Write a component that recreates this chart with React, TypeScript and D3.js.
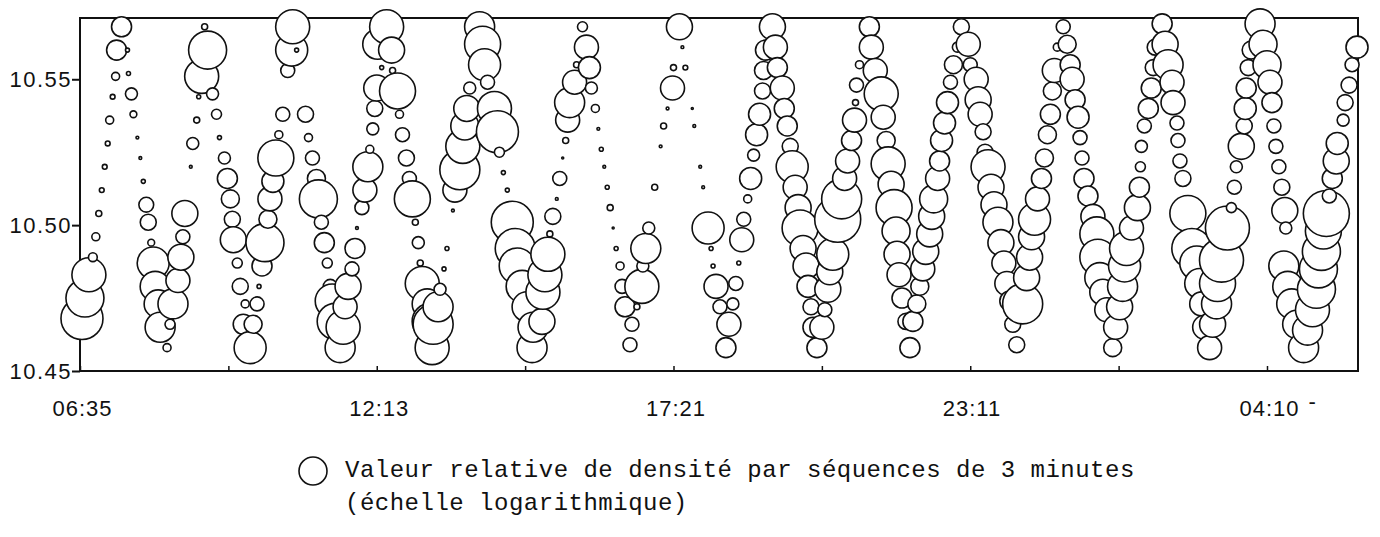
import React, { useEffect, useRef } from "react";
import * as d3 from "d3";

// one bubble per 3-minute sequence: x = minutes of record, y = level, size = relative density (log)
const minutes = [
  2, 5, 9, 13, 16, 19, 22, 25, 28, 30, 33, 36, 37, 42,
  48, 49, 52, 54, 58, 61, 64, 67, 69, 72, 74, 76, 79, 88, 81, 91,
  94, 99, 102, 104, 106, 112, 114, 118, 120, 123, 126, 129,
  134, 138, 141, 146, 149, 152, 154, 155, 159, 162, 167, 165, 172,
  175, 179, 181, 184, 187, 190, 192, 195, 198, 201, 205, 210, 214, 215, 219,
  228, 231, 235, 239, 241, 244, 247, 250, 253, 255, 258, 263,
  266, 268, 271, 275, 278, 280, 285, 288, 291, 293, 296, 298, 300, 305, 301, 310,
  315, 316, 321, 323, 326, 330, 333, 336, 339, 342, 344, 346, 351, 354, 356,
  357, 362, 364, 368, 371, 377, 379, 384, 387, 389, 391, 394, 404,
  407, 409, 412, 419, 422, 424, 428, 432, 437, 440, 442, 447, 452, 457, 458,
  467, 468, 470, 473, 475, 478, 482, 485, 488, 491, 493, 495, 500, 502, 508, 512,
  515, 517, 521, 524, 527, 530, 533, 536, 539, 542, 546, 548, 551, 556, 558,
  563, 568, 569, 572, 575, 581, 587, 590, 594, 599, 600, 606,
  609, 612, 619, 621, 627, 630, 635, 638, 640, 643, 647, 653,
  656, 660, 663, 666, 669, 671, 675, 678, 681, 684, 687, 690, 691, 693, 700,
  703, 705, 710, 712, 715, 718, 720, 723, 726, 728, 731, 734, 736, 739, 741, 745,
  750, 753, 756, 758, 761, 766, 770, 773, 776, 780, 783, 784, 785, 788, 798,
  800, 804, 810, 812, 815, 817, 820, 823, 825, 826, 828, 831, 835, 839,
  842, 846, 849, 852, 855, 859, 861, 863, 867, 869, 871, 874, 877, 880, 883, 887, 891,
  898, 900, 906, 908, 910, 913, 915, 918, 921, 924, 928, 931, 934, 937, 940, 943, 947,
  953, 957, 960, 962, 965, 968, 972, 975, 978, 981, 983, 985, 988, 994,
  998, 1001, 1003, 1006, 1009, 1011, 1013, 1015, 1019, 1024, 1028, 1029, 1031, 1034, 1038, 1044,
  1047, 1051, 1054, 1056, 1058, 1063, 1069, 1071, 1072, 1073, 1076, 1080, 1083, 1085, 1087, 1094,
  1097, 1100, 1104, 1105, 1109, 1110, 1112, 1115, 1120, 1124, 1129, 1132, 1134, 1137, 1142,
  1145, 1149, 1150, 1154, 1160, 1164, 1167, 1169, 1174, 1177, 1178, 1179, 1181, 1184, 1193,
  1196, 1200, 1203, 1205, 1207, 1209, 1212, 1215, 1218, 1219, 1217, 1221, 1225, 1230, 1237,
  1241, 1246, 1250, 1252, 1255, 1257, 1260, 1263, 1266, 1270, 1271, 1277, 1279, 1283, 1286, 1291,
];

const levels = [
  10.468, 10.475, 10.483, 10.489, 10.496, 10.504, 10.512, 10.52, 10.528, 10.536, 10.544, 10.551, 10.56, 10.568,
  10.56, 10.552, 10.545, 10.538, 10.53, 10.523, 10.515, 10.507, 10.501, 10.494, 10.487, 10.479, 10.473, 10.458, 10.465, 10.466,
  10.473, 10.481, 10.489, 10.496, 10.504, 10.52, 10.528, 10.536, 10.544, 10.551, 10.568, 10.56,
  10.545, 10.538, 10.53, 10.523, 10.516, 10.509, 10.502, 10.495, 10.487, 10.479, 10.473, 10.466, 10.458,
  10.466, 10.473, 10.479, 10.486, 10.494, 10.502, 10.509, 10.515, 10.523, 10.531, 10.538, 10.553, 10.56, 10.568, 10.56,
  10.538, 10.53, 10.523, 10.516, 10.509, 10.501, 10.494, 10.487, 10.479, 10.474, 10.467, 10.458,
  10.465, 10.472, 10.479, 10.485, 10.492, 10.499, 10.506, 10.512, 10.52, 10.526, 10.533, 10.54, 10.547, 10.554, 10.562, 10.568,
  10.56, 10.553, 10.546, 10.538, 10.531, 10.523, 10.516, 10.509, 10.501, 10.494, 10.487, 10.48, 10.473, 10.467, 10.458,
  10.466, 10.472, 10.478, 10.485, 10.492, 10.505, 10.512, 10.519, 10.527, 10.534, 10.54, 10.547, 10.568,
  10.562, 10.555, 10.549, 10.54, 10.532, 10.525, 10.518, 10.512, 10.501, 10.492, 10.486, 10.479, 10.472, 10.458, 10.465,
  10.467, 10.477, 10.483, 10.49, 10.497, 10.503, 10.509, 10.516, 10.523, 10.529, 10.536, 10.542, 10.549, 10.555, 10.568, 10.561,
  10.554, 10.547, 10.54, 10.533, 10.526, 10.52, 10.513, 10.506, 10.499, 10.492, 10.486, 10.479, 10.472, 10.459, 10.466,
  10.472, 10.479, 10.486, 10.492, 10.499, 10.513, 10.527, 10.534, 10.54, 10.547, 10.554, 10.568,
  10.561, 10.554, 10.54, 10.534, 10.52, 10.513, 10.499, 10.492, 10.486, 10.479, 10.472, 10.458,
  10.466, 10.473, 10.48, 10.487, 10.495, 10.502, 10.509, 10.516, 10.524, 10.531, 10.538, 10.546, 10.553, 10.56, 10.568,
  10.561, 10.554, 10.547, 10.54, 10.534, 10.527, 10.52, 10.513, 10.506, 10.499, 10.492, 10.486, 10.479, 10.472, 10.465, 10.458,
  10.465, 10.471, 10.478, 10.484, 10.49, 10.502, 10.509, 10.516, 10.522, 10.529, 10.536, 10.542, 10.548, 10.555, 10.568,
  10.561, 10.553, 10.545, 10.537, 10.529, 10.521, 10.514, 10.506, 10.498, 10.49, 10.483, 10.475, 10.467, 10.458,
  10.467, 10.473, 10.479, 10.485, 10.491, 10.497, 10.503, 10.509, 10.516, 10.522, 10.529, 10.535, 10.542, 10.549, 10.555, 10.561, 10.568,
  10.562, 10.555, 10.55, 10.543, 10.538, 10.532, 10.525, 10.52, 10.513, 10.507, 10.501, 10.494, 10.487, 10.48, 10.474, 10.466, 10.459,
  10.473, 10.482, 10.489, 10.496, 10.502, 10.509, 10.516, 10.523, 10.531, 10.538, 10.546, 10.553, 10.561, 10.568,
  10.562, 10.555, 10.55, 10.543, 10.537, 10.53, 10.523, 10.516, 10.51, 10.503, 10.497, 10.489, 10.482, 10.477, 10.471, 10.458,
  10.465, 10.472, 10.479, 10.486, 10.492, 10.499, 10.506, 10.513, 10.52, 10.527, 10.534, 10.54, 10.547, 10.554, 10.561, 10.569,
  10.562, 10.555, 10.549, 10.542, 10.535, 10.529, 10.522, 10.516, 10.504, 10.492, 10.487, 10.48, 10.473, 10.465, 10.458,
  10.466, 10.473, 10.48, 10.488, 10.499, 10.506, 10.513, 10.52, 10.527, 10.534, 10.54, 10.547, 10.554, 10.56, 10.569,
  10.562, 10.555, 10.549, 10.542, 10.534, 10.527, 10.52, 10.513, 10.505, 10.499, 10.486, 10.479, 10.473, 10.466, 10.458,
  10.464, 10.471, 10.478, 10.485, 10.491, 10.498, 10.504, 10.51, 10.516, 10.522, 10.528, 10.536, 10.542, 10.548, 10.555, 10.561,
];

const density = [
  10.5, 9.5, 8.5, 2.2, 2, 1.5, 1.2, 1.2, 1.2, 2, 1.2, 2, 5, 5,
  1, 1, 3, 1.7, 0.7, 0.7, 1, 3.7, 4, 1.7, 8, 7.5, 7, 2, 7.5, 2.5,
  7.5, 6, 6.5, 3.5, 6.5, 0.7, 3, 1.5, 1, 8.5, 1.5, 9.5,
  3, 2.5, 1, 3, 5, 4.5, 4, 6.5, 2.5, 4, 2, 5, 8,
  4.5, 3.5, 1, 5, 9.5, 4.5, 6, 5.5, 9, 2, 3.5, 3.5, 8, 8.5, 1,
  4, 2, 3.5, 4.5, 9.5, 3.5, 5, 2.5, 3.5, 8.5, 9, 7.5,
  8.5, 6, 6.5, 3.5, 5, 0.7, 3.5, 6, 7.5, 2, 3, 4, 6.5, 1, 7.5, 8.5,
  6.5, 1.5, 9, 2, 3.5, 4, 3.5, 9, 1.5, 3, 1.5, 8.5, 7.5, 9, 8.5,
  10, 7.5, 3, 1, 1, 0.7, 6, 10, 8.5, 7, 6.5, 3, 7.5,
  9, 8, 3.5, 8.5, 10.5, 2.5, 1, 1, 10.5, 10, 9, 8, 7.5, 7.5, 7.5,
  6.5, 8.5, 8.5, 8.5, 1.5, 4, 0.7, 3.5, 0.5, 1.5, 6, 7.5, 6, 1.5, 2.5, 6,
  5.5, 3, 2, 0.7, 1, 0.7, 1, 1.5, 0.5, 1, 2, 3.5, 5, 3.5, 3.5,
  1.5, 8.5, 3, 7.5, 3, 1.5, 0.7, 1.5, 0.7, 6, 1.5, 6.5,
  0.7, 1.2, 0.5, 0.7, 0.7, 0.7, 8, 1, 1, 6, 3.5, 5,
  6, 3, 3.5, 1, 6, 3.5, 2, 5.5, 3, 5.5, 5.5, 4, 4.5, 5, 6.5,
  6, 5, 6, 5, 5, 4, 8, 6, 6.5, 9, 6.5, 6.5, 5.5, 4, 5, 5,
  6, 3.5, 6.5, 6.5, 8, 11.5, 10, 6, 6, 5, 6, 1.5, 3.5, 2, 5,
  6, 6, 8.5, 6, 4.5, 8.5, 6.5, 9, 7, 6.5, 6, 5, 4, 5,
  5, 4.5, 4.5, 6, 6.5, 6.5, 6.5, 7, 6, 5, 5.5, 5.5, 5.5, 3.5, 4.5, 2.5, 4,
  6, 3.5, 6, 6.5, 6, 4, 4, 8.5, 6.5, 6.5, 7.5, 6.5, 6, 6, 5, 4, 4,
  10, 6.5, 6.5, 6.5, 8, 6, 5, 4.5, 4.5, 5, 4.5, 6, 2, 3.5,
  4.5, 5, 6, 5, 5.5, 3.5, 3.5, 5, 5, 6, 8.5, 9, 7.5, 6.5, 6, 4.5,
  6, 6.5, 7.5, 8, 8.5, 6, 6.5, 5, 2.5, 3, 3.5, 5, 5, 4, 4, 5,
  6.5, 7.5, 6, 6, 3.5, 3.5, 3.5, 4, 9, 10, 8.5, 7.5, 6, 6, 6,
  6.5, 7.5, 9, 11, 11, 2.5, 3.5, 3, 6.5, 4, 5.5, 5, 4, 4.5, 7.5,
  7, 7, 6, 5, 3.5, 3.5, 3.5, 4, 6.5, 3, 7.5, 7.5, 7.5, 7, 7.5,
  7.5, 8.5, 9.5, 9.5, 9.5, 9, 11.5, 3.5, 5, 6.5, 5.5, 3, 4, 4, 3.5, 5.5,
];

const xTickMinutes = [0, 150, 300, 450, 600, 750, 900, 1050, 1200];
const xLabelMinutes = [0, 300, 600, 900, 1200];
const xLabels = ["06:35", "12:13", "17:21", "23:11", "04:10 -"];
const yTicks = [10.45, 10.5, 10.55];
const legendLines = [
  "Valeur relative de densité par séquences de 3 minutes",
  "(échelle logarithmique)",
];

export default function App() {
  const svgRef = useRef<SVGSVGElement>(null);

  useEffect(() => {
    const svg = d3.select(svgRef.current);
    svg.selectAll("*").remove();

    const x = d3.scaleLinear().domain([0, 1292]).range([80, 1358]);
    const y = d3.scaleLinear().domain([10.45, 10.571]).range([371, 18]);
    const r = d3.scaleLinear().domain([0, 12]).range([0, 24]);

    const tickFont = "'Liberation Sans', Arial, sans-serif";

    // frame
    svg.append("rect")
      .attr("x", x.range()[0])
      .attr("y", y.range()[1])
      .attr("width", x.range()[1] - x.range()[0])
      .attr("height", y.range()[0] - y.range()[1])
      .attr("fill", "none")
      .attr("stroke", "#111")
      .attr("stroke-width", 2);

    // y axis
    const yAxis = svg.append("g")
      .attr("transform", "translate(" + x.range()[0] + ",0)")
      .call(d3.axisLeft(y).tickValues(yTicks).tickSize(8).tickPadding(0).tickFormat(d3.format(".2f")));
    yAxis.select(".domain").remove();
    yAxis.selectAll("line").attr("stroke", "#111").attr("stroke-width", 2);
    yAxis.selectAll("text")
      .attr("font-family", tickFont)
      .attr("font-size", 22)
      .attr("letter-spacing", 1.5)
      .attr("fill", "#111");

    // x axis, ticks inside, labels every second tick
    const xAxis = svg.append("g")
      .attr("transform", "translate(0," + y.range()[0] + ")")
      .call(d3.axisBottom(x)
        .tickValues(xTickMinutes)
        .tickSizeInner(-5)
        .tickSizeOuter(0)
        .tickPadding(29)
        .tickFormat(() => ""));
    xAxis.select(".domain").remove();
    xAxis.selectAll("line").attr("stroke", "#111").attr("stroke-width", 1.5);
    xAxis.selectAll<SVGTextElement, number>("text")
      .each(function (d) {
        const i = xLabelMinutes.indexOf(d);
        if (i < 0) return;
        const [time, mark] = xLabels[i].split(" ");
        const t = d3.select(this)
          .attr("text-anchor", "start")
          .attr("dx", -28)
          .attr("font-family", tickFont)
          .attr("font-size", 22)
          .attr("letter-spacing", 1)
          .attr("fill", "#111");
        t.append("tspan").text(time);
        if (mark) t.append("tspan").attr("dx", 9).attr("dy", -7).text(mark);
      });

    // bubbles, drawn in time order so later sequences cover earlier ones
    svg.append("g")
      .selectAll("circle")
      .data(minutes.map((m, i) => ({m, v: levels[i], s: density[i]})))
      .join("circle")
      .attr("cx", (d) => x(d.m))
      .attr("cy", (d) => y(d.v))
      .attr("r", (d) => r(d.s))
      .attr("fill", "white")
      .attr("stroke", "#111")
      .attr("stroke-width", 1.6);

    // legend
    const legend = svg.append("g");
    legend.append("circle")
      .attr("cx", 313)
      .attr("cy", 471)
      .attr("r", 14)
      .attr("fill", "white")
      .attr("stroke", "#111")
      .attr("stroke-width", 1.6);
    legend.selectAll("text")
      .data(legendLines)
      .join("text")
      .attr("x", 345)
      .attr("y", (d, i) => 477 + i * 33)
      .attr("font-family", "'Liberation Mono', 'Courier New', monospace")
      .attr("font-size", 24)
      .attr("letter-spacing", 0.5)
      .attr("fill", "#111")
      .text((d) => d);
  }, []);

  return (
    <svg
      ref={svgRef}
      width={1380}
      height={537}
      style={{position: "absolute", left: 0, top: 0, background: "white"}}
    />
  );
}
